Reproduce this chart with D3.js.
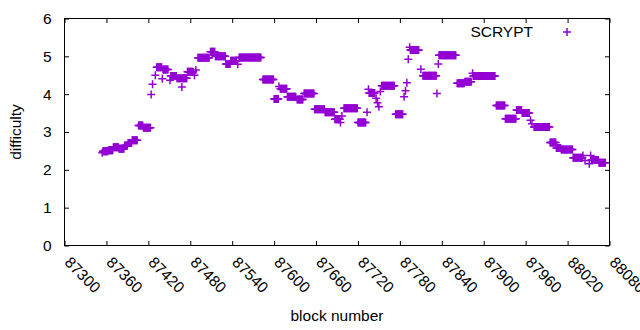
<!DOCTYPE html>
<html><head><meta charset="utf-8">
<script src="https://cdn.jsdelivr.net/npm/d3@7"></script>
<style>body{margin:0;background:#fff} svg{display:block} text{font-family:"Liberation Sans",Arial,sans-serif;font-size:15.5px;fill:#000}</style>
</head><body><svg id="c" width="640" height="330"></svg>
<script>
// Runs of constant difficulty: one point per block from first to last block
const runFirstBlock = [87354,87355,87363,87370,87378,87386,87391,87397,87406,87413,87424,87426,87430,87432,87440,87441,87451,87452,87461,87468,87469,87476,87486,87488,87491,87509,87516,87531,87538,87548,87550,87584,87600,87607,87609,87619,87633,87643,87658,87673,87687,87695,87697,87700,87720,87733,87735,87736,87746,87748,87750,87752,87754,87774,87786,87788,87790,87792,87794,87795,87810,87813,87833,87835,87836,87862,87873,87884,87885,87918,87931,87947,87955,87967,87969,87972,87995,88004,88011,88028,88042,88045,88051,88053,88054,88065];
const runLastBlock  = [87354,87362,87369,87377,87385,87390,87396,87404,87412,87423,87424,87426,87430,87439,87440,87448,87451,87460,87467,87468,87475,87484,87486,87488,87507,87515,87530,87537,87546,87548,87581,87599,87606,87607,87618,87631,87641,87657,87672,87686,87694,87695,87697,87719,87731,87733,87735,87744,87746,87748,87750,87752,87772,87784,87786,87788,87790,87792,87794,87807,87810,87832,87833,87835,87860,87872,87882,87884,87916,87930,87946,87954,87965,87967,87969,87994,88003,88010,88027,88041,88042,88045,88051,88053,88064,88074];
const runDifficulty = [2.45,2.49,2.52,2.60,2.56,2.64,2.71,2.78,3.17,3.11,3.99,4.26,4.50,4.71,4.41,4.65,4.37,4.48,4.42,4.19,4.42,4.59,4.50,4.64,4.96,5.12,5.00,4.80,4.88,4.79,4.97,4.39,3.87,4.20,4.14,3.93,3.86,4.02,3.60,3.52,3.34,3.25,3.42,3.63,3.25,3.52,4.13,4.03,3.89,3.77,3.67,4.07,4.22,3.47,3.93,4.09,4.30,4.92,5.24,5.17,4.66,4.49,4.02,4.80,5.03,4.29,4.33,4.55,4.48,3.70,3.35,3.58,3.50,3.31,3.22,3.13,2.72,2.58,2.54,2.32,2.38,2.25,2.16,2.38,2.26,2.19];
const xTickValues = [87300,87360,87420,87480,87540,87600,87660,87720,87780,87840,87900,87960,88020,88080];
const yTickValues = [0,1,2,3,4,5,6];
const seriesName = "SCRYPT";
const xTitle = "block number";
const yTitle = "difficulty";

const points = [];
runFirstBlock.forEach((b0, i) => {
  for (let b = b0; b <= runLastBlock[i]; b++) points.push({block: b, difficulty: runDifficulty[i]});
});

const svg = d3.select("#c");
const L = 64.5, R = 609.5, T = 18.5, B = 245.5;
const x = d3.scaleLinear().domain([87300, 88080]).range([L, R]);
const y = d3.scaleLinear().domain([0, 6]).range([B, T]);
const color = "#9400D3";
const tick = 4.5;

svg.append("rect").attr("width",640).attr("height",330).attr("fill","#fff");

// axes with inward ticks
const xAxis = d3.axisBottom(x).tickValues(xTickValues).tickSize(-tick).tickFormat("");
const xAxisTop = d3.axisTop(x).tickValues(xTickValues).tickSize(-tick).tickFormat("");
const yAxis = d3.axisLeft(y).tickValues(yTickValues).tickSize(-tick).tickFormat("");
const yAxisRight = d3.axisRight(y).tickValues(yTickValues).tickSize(-tick).tickFormat("");
[[xAxis,`translate(0,${B})`],[xAxisTop,`translate(0,${T})`],[yAxis,`translate(${L},0)`],[yAxisRight,`translate(${R},0)`]].forEach(([ax,tr])=>{
  const g = svg.append("g").attr("transform",tr).call(ax);
  g.select(".domain").remove();
  g.selectAll("line").attr("stroke","#000").attr("stroke-width",1);
});
svg.append("rect").attr("x",L).attr("y",T).attr("width",R-L).attr("height",B-T)
  .attr("fill","none").attr("stroke","#000").attr("stroke-width",1);

// tick labels
svg.append("g").selectAll("text").data(yTickValues).join("text")
  .attr("x", L-13).attr("y", d=>y(d)).attr("dy","0.35em").attr("text-anchor","end").text(d=>d);
svg.append("g").selectAll("text").data(xTickValues).join("text")
  .attr("transform", d=>`translate(${x(d)+3},${B+14}) rotate(45)`)
  .attr("dy","0.35em").attr("text-anchor","start").text(d=>d);

svg.append("text").attr("x",(L+R)/2).attr("y",321).attr("text-anchor","middle").text(xTitle);
svg.append("text").attr("transform",`translate(21,${(T+B)/2}) rotate(-90)`).attr("text-anchor","middle").text(yTitle);

// points
const plus = "M-4,0H4M0,-4V4";
svg.append("g").selectAll("path").data(points).join("path")
  .attr("transform", d=>`translate(${x(d.block)},${y(d.difficulty)})`)
  .attr("d", plus).attr("stroke", color).attr("stroke-width",1.5).attr("fill","none");

// legend
svg.append("text").attr("x",533).attr("y",32).attr("dy","0.35em").attr("text-anchor","end").text(seriesName);
svg.append("path").attr("transform","translate(567,32)").attr("d",plus).attr("stroke",color).attr("stroke-width",1.5);
</script>
</body></html>
